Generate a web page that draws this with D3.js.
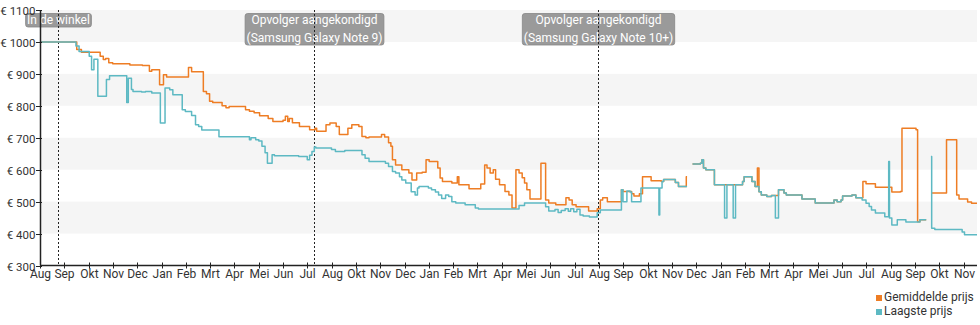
<!DOCTYPE html>
<html><head><meta charset="utf-8">
<script src="https://cdn.jsdelivr.net/npm/d3@7"></script>
<style>
html,body{margin:0;padding:0;background:#fff;}
svg{display:block;font-family:Roboto,"Noto Sans",sans-serif;}
</style></head>
<body>
<svg id="chart" width="980" height="325"></svg>
<script>
// ---- data ----
const yTicks = [300,400,500,600,700,800,900,1000,1100];
const monthLabels = ["Aug","Sep","Okt","Nov","Dec","Jan","Feb","Mrt","Apr","Mei","Jun","Jul",
  "Aug","Okt","Nov","Dec","Jan","Feb","Mrt","Apr","Mei","Jun","Jul",
  "Aug","Sep","Okt","Nov","Dec","Jan","Feb","Mrt","Apr","Mei","Jun","Jul",
  "Aug","Sep","Okt","Nov"];
const startDate = "2017-08-23";
const endDate = "2020-12-04";
const tickStepDays = 31.1;
const eventDates = ["2017-09-15","2018-08-09","2019-08-07"];
const eventLabels = [["In de winkel"],["Opvolger aangekondigd","(Samsung Galaxy Note 9)"],["Opvolger aangekondigd","(Samsung Galaxy Note 10+)"]];
const seriesNames = ["Gemiddelde prijs","Laagste prijs"];
const seriesColors = ["#ee7d24","#5db9c3"];

const avgPrice = [
["2017-08-23",1000],["2017-10-09",976],["2017-10-15",968],["2017-11-08",955],["2017-11-12",945],
["2017-11-15",948],["2017-11-19",935],["2017-11-24",932],["2017-12-16",928],["2018-01-01",926],
["2018-01-10",908],["2018-01-13",913],["2018-01-23",866],["2018-01-28",897],["2018-02-01",890],
["2018-03-01",920],["2018-03-05",907],["2018-03-20",845],["2018-03-24",838],["2018-03-28",814],
["2018-04-01",810],["2018-04-13",800],["2018-04-18",794],["2018-04-22",798],["2018-05-13",788],
["2018-05-18",783],["2018-05-24",778],["2018-05-31",769],["2018-06-11",760],["2018-06-17",751],
["2018-06-30",755],["2018-07-03",767],["2018-07-06",751],["2018-07-08",760],["2018-07-12",747],
["2018-07-21",735],["2018-08-03",725],["2018-08-10",730],["2018-08-12",720],["2018-08-24",741],
["2018-08-29",746],["2018-09-06",735],["2018-09-10",710],["2018-09-21",730],["2018-09-26",741],
["2018-10-05",735],["2018-10-09",704],["2018-10-14",700],["2018-10-18",702],["2018-11-03",710],
["2018-11-07",702],["2018-11-12",684],["2018-11-15",673],["2018-11-17",631],["2018-11-21",615],
["2018-11-29",600],["2018-12-08",590],["2018-12-12",568],["2018-12-18",590],["2018-12-25",592],
["2018-12-30",631],["2019-01-03",626],["2019-01-14",605],["2019-01-17",574],["2019-01-20",563],
["2019-02-01",558],["2019-02-08",578],["2019-02-10",553],["2019-02-23",540],["2019-03-10",555],
["2019-03-15",615],["2019-03-18",605],["2019-03-22",590],["2019-03-26",600],["2019-03-29",570],
["2019-04-03",553],["2019-04-10",532],["2019-04-15",521],["2019-04-19",480],["2019-04-24",600],
["2019-04-28",590],["2019-05-02",575],["2019-05-05",558],["2019-05-08",537],["2019-05-12",508],
["2019-05-26",620],["2019-06-01",505],["2019-06-05",496],["2019-06-14",490],["2019-06-27",512],
["2019-07-01",505],["2019-07-05",490],["2019-07-10",484],["2019-07-26",471],["2019-08-06",478],
["2019-08-10",505],["2019-08-13",512],["2019-08-19",500],["2019-09-06",537],["2019-09-08",532],
["2019-09-19",525],["2019-09-22",518],["2019-09-29",525],["2019-10-03",578],["2019-10-14",565],
["2019-10-27",563],["2019-10-30",569],["2019-11-14",560],["2019-11-18",547],["2019-11-28",578],
["2019-11-29",578],["2019-12-01",null],
["2019-12-06",618],["2019-12-16",620],["2019-12-18",631],["2019-12-20",605],["2019-12-23",600],
["2020-01-03",553],["2020-02-08",563],["2020-02-10",578],["2020-02-20",563],["2020-02-24",547],
["2020-02-27",605],["2020-02-29",531],["2020-03-03",521],["2020-03-10",516],["2020-03-16",519],
["2020-03-25",537],["2020-04-01",527],["2020-04-04",521],["2020-04-24",508],["2020-05-11",496],
["2020-06-04",505],["2020-06-08",500],["2020-06-13",505],["2020-06-15",518],["2020-06-27",521],
["2020-07-02",512],["2020-07-11",563],["2020-07-15",556],["2020-07-27",545],["2020-08-17",530],
["2020-08-28",532],["2020-08-30",730],["2020-09-17",725],["2020-09-19",437],["2020-09-22",443],
["2020-09-30",443],["2020-10-02",null],
["2020-10-07",527],["2020-10-26",694],["2020-11-08",521],["2020-11-11",508],["2020-11-22",499],
["2020-11-27",495],["2020-12-04",495]
];

const lowestPrice = [
["2017-08-23",1000],["2017-10-08",987],["2017-10-12",970],["2017-10-25",955],["2017-10-28",913],
["2017-10-31",946],["2017-11-05",830],["2017-11-16",882],["2017-11-20",894],["2017-12-12",810],
["2017-12-14",886],["2017-12-18",851],["2017-12-20",845],["2017-12-31",843],["2018-01-05",845],
["2018-01-13",840],["2018-01-24",746],["2018-01-30",856],["2018-02-05",850],["2018-02-09",835],
["2018-02-21",788],["2018-02-25",782],["2018-03-05",770],["2018-03-10",741],["2018-03-14",735],
["2018-03-18",724],["2018-04-09",703],["2018-05-18",694],["2018-05-20",700],["2018-05-26",694],
["2018-05-30",690],["2018-06-03",673],["2018-06-07",653],["2018-06-10",620],["2018-06-16",647],
["2018-06-19",644],["2018-07-20",641],["2018-07-31",631],["2018-08-03",645],["2018-08-06",657],
["2018-08-09",671],["2018-08-11",668],["2018-08-31",663],["2018-09-05",657],["2018-09-17",660],
["2018-10-09",647],["2018-10-13",636],["2018-10-18",626],["2018-11-08",620],["2018-11-12",610],
["2018-11-17",594],["2018-11-21",590],["2018-11-26",578],["2018-11-29",568],["2018-12-04",558],
["2018-12-11",531],["2018-12-16",521],["2018-12-19",543],["2018-12-21",547],["2019-01-02",543],
["2019-01-06",537],["2019-01-11",530],["2019-01-15",521],["2019-01-19",510],["2019-01-24",521],
["2019-01-28",516],["2019-02-01",500],["2019-02-06",496],["2019-02-18",490],["2019-03-03",480],
["2019-03-07",477],["2019-04-28",488],["2019-05-05",496],["2019-06-01",484],["2019-06-05",471],
["2019-06-13",475],["2019-06-17",466],["2019-06-21",472],["2019-06-26",478],["2019-06-30",470],
["2019-07-03",478],["2019-07-07",468],["2019-07-11",476],["2019-07-15",458],["2019-07-19",455],
["2019-07-27",452],["2019-08-06",465],["2019-08-10",474],["2019-09-06",537],["2019-09-08",500],
["2019-09-13",533],["2019-09-17",530],["2019-09-19",500],["2019-10-01",543],["2019-10-24",458],
["2019-10-25",543],["2019-10-28",563],["2019-10-30",569],["2019-11-14",560],["2019-11-18",547],
["2019-11-29",547],["2019-12-01",null],
["2019-12-06",618],["2019-12-16",620],["2019-12-18",631],["2019-12-20",605],["2019-12-23",600],
["2020-01-03",553],["2020-01-16",449],["2020-01-19",553],["2020-01-27",449],["2020-01-30",553],
["2020-02-08",563],["2020-02-10",578],["2020-02-20",563],["2020-02-24",547],["2020-02-29",531],
["2020-03-03",521],["2020-03-10",516],["2020-03-16",519],["2020-03-21",449],["2020-03-25",537],
["2020-04-01",527],["2020-04-04",521],["2020-04-24",508],["2020-05-11",496],["2020-06-04",505],
["2020-06-08",500],["2020-06-13",505],["2020-06-15",518],["2020-06-27",521],["2020-07-02",512],
["2020-07-10",505],["2020-07-15",495],["2020-07-19",485],["2020-07-22",474],["2020-07-27",464],
["2020-08-08",453],["2020-08-13",626],["2020-08-14",449],["2020-08-17",427],["2020-08-24",443],
["2020-09-04",436],["2020-09-22",443],["2020-09-30",443],["2020-10-02",null],
["2020-10-06",641],["2020-10-07",417],["2020-10-11",413],["2020-11-15",405],["2020-11-18",396],
["2020-12-04",396]
];

// ---- chart ----
(function () {
const parse = d3.timeParse("%Y-%m-%d");
const svg = d3.select("#chart");
const pL = 40, pR = 977, pT = 10, pB = 265.5;
const x = d3.scaleTime().domain([parse(startDate), parse(endDate)]).range([pL, pR]);
const y = d3.scaleLinear().domain([300, 1100]).range([pB, pT]);

// alternating bands
const bands = d3.range(0, yTicks.length - 1).filter(i => i % 2 === 1);
svg.append("g").selectAll("rect").data(bands).join("rect")
  .attr("x", pL).attr("width", pR - pL)
  .attr("y", i => y(yTicks[i + 1])).attr("height", i => y(yTicks[i]) - y(yTicks[i + 1]))
  .attr("fill", "#f5f5f5");

// event lines + labels
const ev = svg.append("g");
eventDates.forEach((d, i) => {
  const ex = Math.round(x(parse(d))) + 0.5;
  const lines = eventLabels[i];
  const g = ev.append("g");
  const t = g.append("text").attr("fill", "#fff").attr("font-size", 12).attr("text-anchor", "middle");
  lines.forEach((l, j) => t.append("tspan").attr("x", ex).attr("y", 24 + j * 17.5).text(l));
  const bb = t.node().getBBox();
  g.insert("rect", "text")
    .attr("x", ex - bb.width / 2 - 1.5).attr("width", bb.width + 3)
    .attr("y", 13.5).attr("height", lines.length === 1 ? 13.5 : 31.5)
    .attr("rx", 2.5).attr("fill", "#9a9a9a").attr("stroke", "#858585").attr("stroke-width", 0.8);
  ev.append("line").attr("x1", ex).attr("x2", ex).attr("y1", pT).attr("y2", pB)
    .attr("stroke", "#222").attr("stroke-width", 1).attr("stroke-dasharray", "2,2");
});

// series
const line = d3.line()
  .defined(d => d[1] != null)
  .x(d => x(parse(d[0])))
  .y(d => y(d[1]))
  .curve(d3.curveStepAfter);
[avgPrice, lowestPrice].forEach((s, i) => {
  svg.append("path").datum(s).attr("d", line).attr("fill", "none")
    .attr("stroke", seriesColors[i]).attr("stroke-width", 1.5).attr("stroke-linejoin", "round");
});

// y axis
const yAxis = svg.append("g");
yAxis.append("line").attr("x1", pL + 0.5).attr("x2", pL + 0.5).attr("y1", pT).attr("y2", pB)
  .attr("stroke", "#222").attr("stroke-width", 1.5);
yTicks.forEach(v => {
  const yy = Math.round(y(v)) + 0.5;
  yAxis.append("line").attr("x1", 36).attr("x2", 42).attr("y1", yy).attr("y2", yy).attr("stroke", "#222");
  yAxis.append("text").attr("x", 35.5).attr("y", yy).attr("dy", "0.35em").attr("text-anchor", "end")
    .attr("font-size", 11.5).attr("fill", "#333").text("€ " + v);
});

// x axis
const xAxis = svg.append("g");
xAxis.append("line").attr("x1", pL).attr("x2", pR).attr("y1", pB).attr("y2", pB)
  .attr("stroke", "#222").attr("stroke-width", 1.5);
const t0 = parse(startDate);
monthLabels.forEach((lab, i) => {
  const xx = Math.round(x(d3.timeHour.offset(t0, Math.round(i * tickStepDays * 24)))) + 0.5;
  xAxis.append("line").attr("x1", xx).attr("x2", xx).attr("y1", pB - 3).attr("y2", pB + 3).attr("stroke", "#222");
  xAxis.append("text").attr("x", xx).attr("y", 278).attr("text-anchor", "middle")
    .attr("font-size", 12).attr("fill", "#333").text(lab);
});

// legend
const lg = svg.append("g");
seriesNames.forEach((n, i) => {
  lg.append("rect").attr("x", 876).attr("y", 295 + i * 14).attr("width", 6).attr("height", 6).attr("fill", seriesColors[i]);
  lg.append("text").attr("x", 884).attr("y", 301 + i * 14).attr("font-size", 12).attr("fill", "#333").text(n);
});
})();
</script>
</body></html>
